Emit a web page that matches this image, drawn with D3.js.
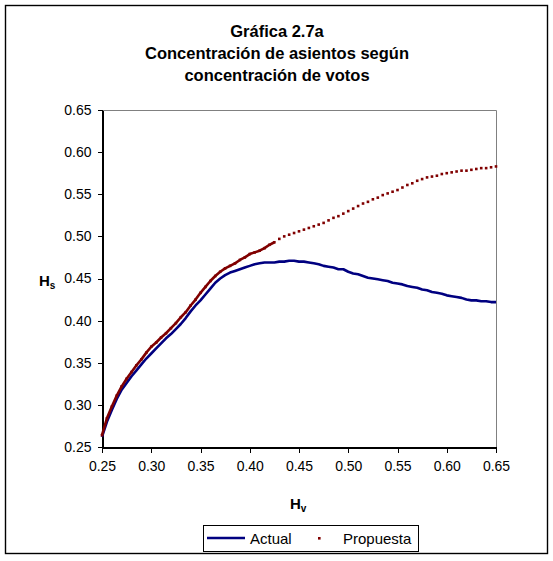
<!DOCTYPE html>
<html>
<head>
<meta charset="utf-8">
<script src="https://cdn.jsdelivr.net/npm/d3@7"></script>
<style>
  body { margin: 0; background: #fff; }
  svg { display: block; font-family: Arial, "Liberation Sans", sans-serif; }
  .axis text { font-size: 14px; fill: #000; }
  .axis path, .axis line { stroke: #000; shape-rendering: crispEdges; }
</style>
</head>
<body>
<div id="chart"></div>
<script>
// H_v (vote concentration) sample points
const hv = [
  0.250, 0.255, 0.260, 0.265, 0.270, 0.275, 0.280, 0.285, 0.290, 0.295,
  0.300, 0.305, 0.310, 0.315, 0.320, 0.325, 0.330, 0.335, 0.340, 0.345,
  0.350, 0.355, 0.360, 0.365, 0.370, 0.375, 0.380, 0.385, 0.390, 0.395,
  0.400, 0.405, 0.410, 0.415, 0.420, 0.425, 0.430, 0.435, 0.440, 0.445,
  0.450, 0.455, 0.460, 0.465, 0.470, 0.475, 0.480, 0.485, 0.490, 0.495,
  0.500, 0.505, 0.510, 0.515, 0.520, 0.525, 0.530, 0.535, 0.540, 0.545,
  0.550, 0.555, 0.560, 0.565, 0.570, 0.575, 0.580, 0.585, 0.590, 0.595,
  0.600, 0.605, 0.610, 0.615, 0.620, 0.625, 0.630, 0.635, 0.640, 0.645,
  0.650
];

// H_s under the current system
const actual = [
  0.262, 0.280, 0.294, 0.307, 0.318, 0.326, 0.334, 0.341, 0.348, 0.355,
  0.361, 0.367, 0.373, 0.379, 0.384, 0.390, 0.396, 0.403, 0.411, 0.418,
  0.424, 0.431, 0.438, 0.445, 0.450, 0.454, 0.457, 0.459, 0.461, 0.463,
  0.465, 0.467, 0.468, 0.469, 0.469, 0.469, 0.470, 0.470, 0.471, 0.471,
  0.470, 0.470, 0.469, 0.468, 0.467, 0.465, 0.464, 0.463, 0.461, 0.461,
  0.458, 0.456, 0.455, 0.453, 0.451, 0.450, 0.449, 0.448, 0.447, 0.445,
  0.444, 0.443, 0.441, 0.440, 0.439, 0.437, 0.436, 0.434, 0.433, 0.432,
  0.430, 0.429, 0.428, 0.427, 0.425, 0.424, 0.424, 0.423, 0.423, 0.422,
  0.422
];

// H_s under the proposal
const propuesta = [
  0.264, 0.284, 0.298, 0.311, 0.322, 0.331, 0.339, 0.347, 0.354, 0.362,
  0.369, 0.374, 0.380, 0.385, 0.391, 0.397, 0.404, 0.410, 0.418, 0.425,
  0.433, 0.440, 0.447, 0.453, 0.458, 0.462, 0.465, 0.468, 0.472, 0.475,
  0.479, 0.481, 0.483, 0.486, 0.490, 0.493, 0.497, 0.500, 0.502, 0.504,
  0.506, 0.508, 0.510, 0.512, 0.514, 0.516, 0.519, 0.522, 0.524, 0.527,
  0.530, 0.533, 0.536, 0.539, 0.541, 0.544, 0.546, 0.549, 0.551, 0.553,
  0.555, 0.558, 0.561, 0.563, 0.566, 0.568, 0.570, 0.571, 0.572, 0.574,
  0.575, 0.576, 0.577, 0.578, 0.578, 0.579, 0.580, 0.581, 0.581, 0.582,
  0.583
];

const xTicks = [0.25, 0.30, 0.35, 0.40, 0.45, 0.50, 0.55, 0.60, 0.65];
const yTicks = [0.25, 0.30, 0.35, 0.40, 0.45, 0.50, 0.55, 0.60, 0.65];
const titleLines = ['Gráfica 2.7a', 'Concentración de asientos según', 'concentración de votos'];
const seriesNames = ['Actual', 'Propuesta'];

const W = 553, H = 561;
const plot = { left: 102, right: 496, top: 110, bottom: 447 };

const svg = d3.select('#chart').append('svg')
    .attr('width', W)
    .attr('height', H);

// outer frame
svg.append('rect')
    .attr('x', 5.5).attr('y', 5.5)
    .attr('width', 542).attr('height', 548)
    .attr('fill', '#fff')
    .attr('stroke', '#000')
    .attr('stroke-width', 1.4);

// title
svg.append('text')
    .attr('text-anchor', 'middle')
    .style('font-size', '16.5px')
    .style('font-weight', 'bold')
    .selectAll('tspan')
    .data(titleLines)
    .enter()
    .append('tspan')
    .attr('x', 277)
    .attr('y', (d, i) => 37 + i * 22)
    .text(d => d);

const x = d3.scaleLinear().domain([0.25, 0.65]).range([plot.left, plot.right]);
const y = d3.scaleLinear().domain([0.25, 0.65]).range([plot.bottom, plot.top]);

// plot frame (top / right in grey)
svg.append('path')
    .attr('d', `M${plot.left},${plot.top + 0.5}H${plot.right + 0.5}V${plot.bottom}`)
    .attr('fill', 'none')
    .attr('stroke', '#808080')
    .attr('stroke-width', 1);

svg.append('g')
    .attr('class', 'axis')
    .attr('transform', `translate(0,${plot.bottom + 0.5})`)
    .call(d3.axisBottom(x).tickValues(xTicks).tickSize(5).tickSizeOuter(0).tickPadding(9)
        .tickFormat(d3.format('.2f')));

svg.append('g')
    .attr('class', 'axis')
    .attr('transform', `translate(${plot.left + 0.5},0)`)
    .call(d3.axisLeft(y).tickValues(yTicks).tickSize(5).tickSizeOuter(0).tickPadding(6)
        .tickFormat(d3.format('.2f')));

svg.selectAll('.axis .domain').attr('stroke-width', 1.2);

// axis titles
const ylab = svg.append('text')
    .attr('x', 39).attr('y', 286)
    .style('font-size', '15px')
    .style('font-weight', 'bold');
ylab.append('tspan').text('H');
ylab.append('tspan').attr('dy', 3).style('font-size', '10px').text('s');

const xlab = svg.append('text')
    .attr('x', 290).attr('y', 509)
    .style('font-size', '15px')
    .style('font-weight', 'bold');
xlab.append('tspan').text('H');
xlab.append('tspan').attr('dy', 3).style('font-size', '10px').text('v');

const actualPts = hv.map((v, i) => [v, actual[i]]);
const propPts = hv.map((v, i) => [v, propuesta[i]]);

const line = d3.line()
    .x(d => x(d[0]))
    .y(d => y(d[1]));

// Actual: solid navy line
svg.append('path')
    .datum(actualPts)
    .attr('fill', 'none')
    .attr('stroke', '#000080')
    .attr('stroke-width', 2.6)
    .attr('stroke-linejoin', 'round')
    .attr('d', line);

// Propuesta: square markers; on the steep part the original markers overlap
// into a solid trace, so join them there
const redCol = '#800000';
const solidUntil = 0.425;
svg.append('path')
    .datum(propPts.filter(d => d[0] <= solidUntil))
    .attr('fill', 'none')
    .attr('stroke', redCol)
    .attr('stroke-width', 2.6)
    .attr('stroke-linejoin', 'round')
    .attr('d', line);

svg.append('g')
    .selectAll('rect')
    .data(propPts)
    .enter()
    .append('rect')
    .attr('x', d => x(d[0]) - 1.3)
    .attr('y', d => y(d[1]) - 1.3)
    .attr('width', 2.6)
    .attr('height', 2.6)
    .attr('fill', redCol);

// legend
const lg = svg.append('g');
lg.append('rect')
    .attr('x', 203.5).attr('y', 525.5)
    .attr('width', 215).attr('height', 26)
    .attr('fill', '#fff')
    .attr('stroke', '#000')
    .attr('stroke-width', 1);
lg.append('line')
    .attr('x1', 207).attr('x2', 245)
    .attr('y1', 538).attr('y2', 538)
    .attr('stroke', '#000080')
    .attr('stroke-width', 2.6);
lg.append('text')
    .attr('x', 250).attr('y', 543.5)
    .style('font-size', '15px')
    .text(seriesNames[0]);
lg.append('rect')
    .attr('x', 318).attr('y', 537)
    .attr('width', 2.6).attr('height', 2.6)
    .attr('fill', redCol);
lg.append('text')
    .attr('x', 343).attr('y', 543.5)
    .style('font-size', '15px')
    .text(seriesNames[1]);
</script>
</body>
</html>
